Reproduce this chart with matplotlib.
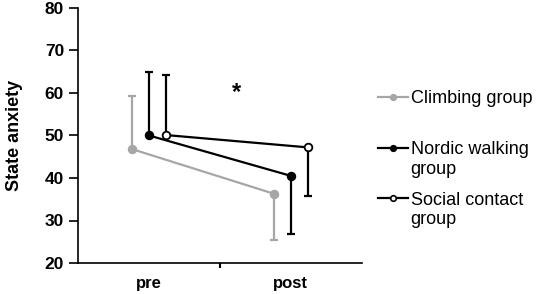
import matplotlib
matplotlib.use("Agg")
import matplotlib.pyplot as plt
from matplotlib.lines import Line2D
from matplotlib.legend_handler import HandlerLine2D

plt.rcParams['font.family'] = ['Liberation Sans', 'DejaVu Sans']

timepoints = ["pre", "post"]
groups = ["Climbing group", "Nordic walking group", "Social contact group"]
legend_labels = ["Climbing group\n", "Nordic walking\ngroup", "Social contact\ngroup"]
means = {
    "Climbing group": [46.8, 36.3],
    "Nordic walking group": [50.0, 40.5],
    "Social contact group": [50.1, 47.2],
}
# one-sided SD: upward at pre, downward at post
sds = {
    "Climbing group": [12.4, 10.8],
    "Nordic walking group": [14.9, 13.6],
    "Social contact group": [14.1, 11.5],
}
colors = ["#a6a6a6", "black", "black"]
faces = ["#a6a6a6", "black", "white"]
offsets = [-0.12, 0.0, 0.12]
yticks = [20, 30, 40, 50, 60, 70, 80]


class FirstLineHandler(HandlerLine2D):
    def __init__(self, shift, **kw):
        super().__init__(**kw)
        self.shift = shift

    def create_artists(self, legend, orig_handle, xdescent, ydescent,
                       width, height, fontsize, trans):
        return super().create_artists(legend, orig_handle, xdescent,
                                      ydescent - self.shift, width, height,
                                      fontsize, trans)


fig = plt.figure(figsize=(5.36, 2.94), dpi=100)
ax = fig.add_axes([0.1455, 0.1054, 0.675 - 0.1455, 0.973 - 0.1054])

handles = []
for g, c, fc, off in zip(groups, colors, faces, offsets):
    xs = [0.5 + off, 1.5 + off]
    m = means[g]
    s = sds[g]
    ax.errorbar(xs, m, yerr=[[0, s[1]], [s[0], 0]], fmt='none', ecolor=c,
                elinewidth=1.6, capsize=3, capthick=1.6, zorder=2)
    ax.plot(xs, m, color=c, lw=1.6, marker='o', ms=5.5, mfc=fc, mec=c, mew=1.3, zorder=3)
    handles.append(Line2D([], [], color=c, lw=1.6, marker='o', ms=4, mfc=fc, mec=c, mew=1.2))

ax.text(1.12, 60.2, "*", fontsize=17, fontweight='bold', ha='center', va='center')

ax.set_xlim(0, 2)
ax.set_ylim(20, 80)
ax.set_yticks(yticks)
ax.set_yticklabels([str(t) for t in yticks], fontsize=12.5, fontweight='bold')
ax.set_xticks([1])
ax.set_xticklabels([])
ax.set_xticks([0.5, 1.5], minor=True)
ax.set_xticklabels(timepoints, minor=True, fontsize=12, fontweight='bold')
ax.tick_params(axis='x', which='minor', length=0, pad=9)
ax.tick_params(axis='x', which='major', length=3.5, width=1.5, direction='out')
ax.tick_params(axis='y', length=6.5, width=1.2, direction='out', pad=3.5)
ax.set_ylabel("State anxiety", fontsize=13, fontweight='bold', labelpad=16)
for sp in ['top', 'right']:
    ax.spines[sp].set_visible(False)
for sp in ['left', 'bottom']:
    ax.spines[sp].set_linewidth(1.2)

fig.legend(handles, legend_labels, loc='upper left', bbox_to_anchor=(0.705, 0.693),
           frameon=False, fontsize=13, handlelength=1.65, handletextpad=0.17,
           labelspacing=0.78, borderaxespad=0, borderpad=0,
           handler_map={h: FirstLineHandler(17) for h in handles})

fig.savefig("out.png", dpi=100)
